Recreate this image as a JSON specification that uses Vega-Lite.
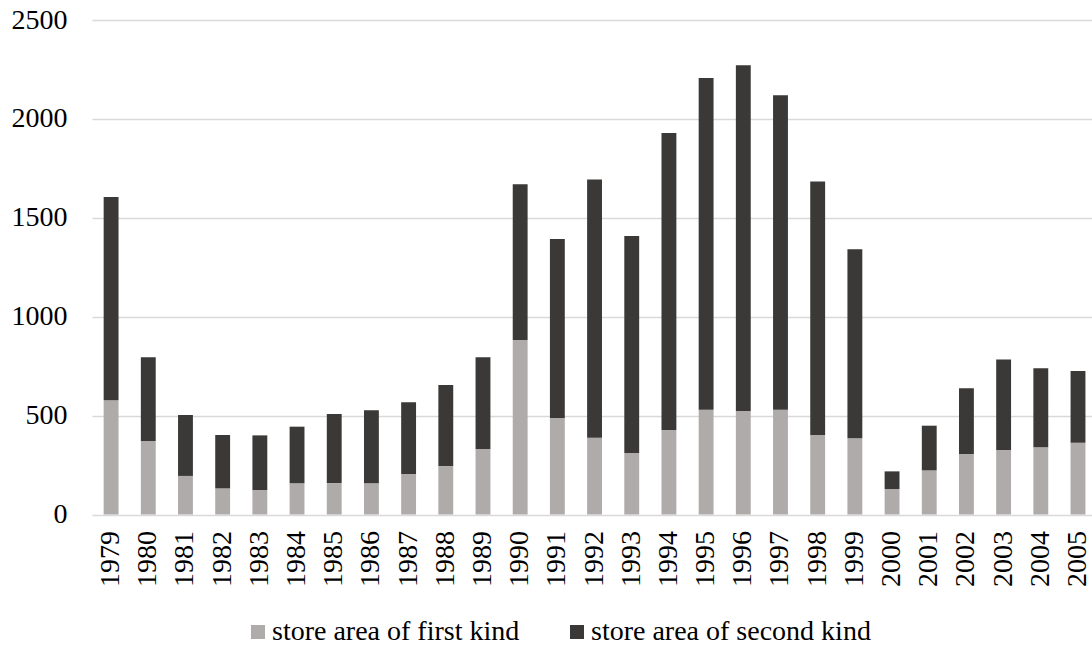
{
  "$schema": "https://vega.github.io/schema/vega-lite/v6.json",
  "width": 1000,
  "height": 494.5,
  "autosize": {"type": "none"},
  "padding": {"left": 92, "top": 20, "right": 0, "bottom": 131.5},
  "background": "white",
  "config": {
    "view": {"stroke": null},
    "font": "Liberation Serif"
  },
  "data": {
    "values": [
      {"year": "1979", "kind": "store area of first kind", "value": 577},
      {"year": "1979", "kind": "store area of second kind", "value": 1028},
      {"year": "1980", "kind": "store area of first kind", "value": 372},
      {"year": "1980", "kind": "store area of second kind", "value": 423},
      {"year": "1981", "kind": "store area of first kind", "value": 195},
      {"year": "1981", "kind": "store area of second kind", "value": 308},
      {"year": "1982", "kind": "store area of first kind", "value": 132},
      {"year": "1982", "kind": "store area of second kind", "value": 270},
      {"year": "1983", "kind": "store area of first kind", "value": 124},
      {"year": "1983", "kind": "store area of second kind", "value": 276},
      {"year": "1984", "kind": "store area of first kind", "value": 158},
      {"year": "1984", "kind": "store area of second kind", "value": 286},
      {"year": "1985", "kind": "store area of first kind", "value": 159},
      {"year": "1985", "kind": "store area of second kind", "value": 349},
      {"year": "1986", "kind": "store area of first kind", "value": 158},
      {"year": "1986", "kind": "store area of second kind", "value": 369},
      {"year": "1987", "kind": "store area of first kind", "value": 205},
      {"year": "1987", "kind": "store area of second kind", "value": 362},
      {"year": "1988", "kind": "store area of first kind", "value": 245},
      {"year": "1988", "kind": "store area of second kind", "value": 410},
      {"year": "1989", "kind": "store area of first kind", "value": 331},
      {"year": "1989", "kind": "store area of second kind", "value": 464},
      {"year": "1990", "kind": "store area of first kind", "value": 882},
      {"year": "1990", "kind": "store area of second kind", "value": 787},
      {"year": "1991", "kind": "store area of first kind", "value": 488},
      {"year": "1991", "kind": "store area of second kind", "value": 905},
      {"year": "1992", "kind": "store area of first kind", "value": 388},
      {"year": "1992", "kind": "store area of second kind", "value": 1305},
      {"year": "1993", "kind": "store area of first kind", "value": 311},
      {"year": "1993", "kind": "store area of second kind", "value": 1097},
      {"year": "1994", "kind": "store area of first kind", "value": 427},
      {"year": "1994", "kind": "store area of second kind", "value": 1502},
      {"year": "1995", "kind": "store area of first kind", "value": 530},
      {"year": "1995", "kind": "store area of second kind", "value": 1677},
      {"year": "1996", "kind": "store area of first kind", "value": 523},
      {"year": "1996", "kind": "store area of second kind", "value": 1748},
      {"year": "1997", "kind": "store area of first kind", "value": 530},
      {"year": "1997", "kind": "store area of second kind", "value": 1589},
      {"year": "1998", "kind": "store area of first kind", "value": 402},
      {"year": "1998", "kind": "store area of second kind", "value": 1281},
      {"year": "1999", "kind": "store area of first kind", "value": 385},
      {"year": "1999", "kind": "store area of second kind", "value": 956},
      {"year": "2000", "kind": "store area of first kind", "value": 129},
      {"year": "2000", "kind": "store area of second kind", "value": 89},
      {"year": "2001", "kind": "store area of first kind", "value": 223},
      {"year": "2001", "kind": "store area of second kind", "value": 226},
      {"year": "2002", "kind": "store area of first kind", "value": 306},
      {"year": "2002", "kind": "store area of second kind", "value": 332},
      {"year": "2003", "kind": "store area of first kind", "value": 326},
      {"year": "2003", "kind": "store area of second kind", "value": 457},
      {"year": "2004", "kind": "store area of first kind", "value": 340},
      {"year": "2004", "kind": "store area of second kind", "value": 399},
      {"year": "2005", "kind": "store area of first kind", "value": 363},
      {"year": "2005", "kind": "store area of second kind", "value": 362}
    ]
  },
  "mark": {"type": "bar"},
  "encoding": {
    "x": {
      "field": "year",
      "type": "ordinal",
      "scale": {"paddingInner": 0.6, "paddingOuter": 0.245, "align": 0.64},
      "axis": {
        "title": null,
        "labelAngle": -90,
        "labelFontSize": 28,
        "labelPadding": 16,
        "labelColor": "#000000",
        "ticks": false,
        "domain": false
      }
    },
    "y": {
      "field": "value",
      "type": "quantitative",
      "stack": "zero",
      "scale": {"domain": [0, 2500], "nice": false},
      "axis": {
        "title": null,
        "values": [0, 500, 1000, 1500, 2000, 2500],
        "format": "d",
        "labelFontSize": 28,
        "labelPadding": 25,
        "labelColor": "#000000",
        "ticks": false,
        "domain": false,
        "gridColor": "#D9D9D9",
        "gridWidth": 1.3
      }
    },
    "color": {
      "field": "kind",
      "type": "nominal",
      "scale": {
        "domain": ["store area of first kind", "store area of second kind"],
        "range": ["#AEABAA", "#3A3937"]
      },
      "legend": {
        "title": null,
        "orient": "none",
        "legendX": 152,
        "legendY": 598,
        "direction": "horizontal",
        "symbolType": "square",
        "symbolSize": 196,
        "symbolStrokeWidth": 0,
        "labelFontSize": 28,
        "labelLimit": 0,
        "labelOffset": 0,
        "labelColor": "#000000",
        "columnPadding": 43
      }
    },
    "order": {"field": "kind", "sort": "ascending"}
  }
}
